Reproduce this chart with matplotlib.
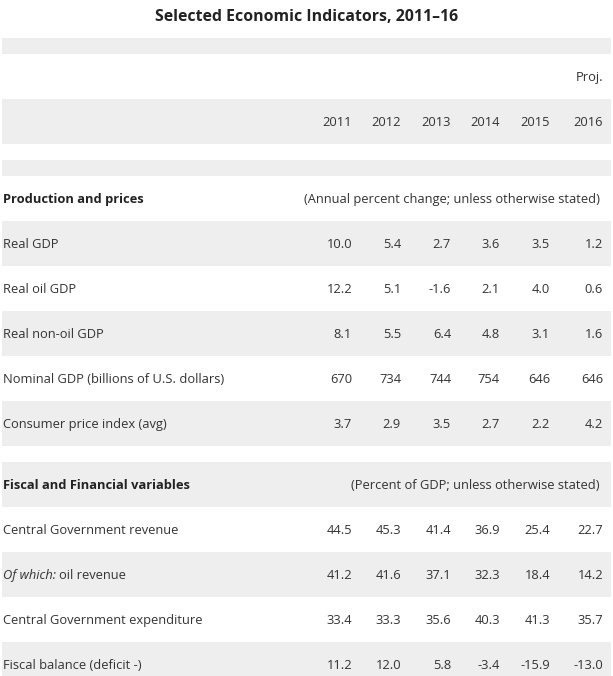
import matplotlib
matplotlib.use("Agg")
import matplotlib.pyplot as plt

# --------------------------------------------------------------------------
# Table content
# --------------------------------------------------------------------------
title = "Selected Economic Indicators, 2011\u201316"
years = ["2011", "2012", "2013", "2014", "2015", "2016"]
proj_label = "Proj."

section1 = "Production and prices"
section1_note = "(Annual percent change; unless otherwise stated)"
rows1 = ["Real GDP", "Real oil GDP", "Real non-oil GDP",
         "Nominal GDP (billions of U.S. dollars)", "Consumer price index (avg)"]
vals1 = [["10.0", "5.4", "2.7", "3.6", "3.5", "1.2"],
         ["12.2", "5.1", "-1.6", "2.1", "4.0", "0.6"],
         ["8.1", "5.5", "6.4", "4.8", "3.1", "1.6"],
         ["670", "734", "744", "754", "646", "646"],
         ["3.7", "2.9", "3.5", "2.7", "2.2", "4.2"]]

section2 = "Fiscal and Financial variables"
section2_note = "(Percent of GDP; unless otherwise stated)"
rows2 = ["Central Government revenue", "oil revenue",
         "Central Government expenditure", "Fiscal balance (deficit -)"]
rows2_prefix = ["", "Of which:", "", ""]
vals2 = [["44.5", "45.3", "41.4", "36.9", "25.4", "22.7"],
         ["41.2", "41.6", "37.1", "32.3", "18.4", "14.2"],
         ["33.4", "33.3", "35.6", "40.3", "41.3", "35.7"],
         ["11.2", "12.0", "5.8", "-3.4", "-15.9", "-13.0"]]

# --------------------------------------------------------------------------
# Layout (pixel space)
# --------------------------------------------------------------------------
W, H = 613, 676
ROW_H = 45
SPACER_H = 16
LEFT, RIGHT = 2, 611
LABEL_X = 3
COL_RIGHT = [352, 401, 451, 500, 550, 603]
GRAY = "#eeeeee"
TXT = "#333333"
FONT = "Open Sans"
FS = 9.3
DY = 1  # small downward nudge of text inside each row

fig = plt.figure(figsize=(W / 100, H / 100), dpi=100)
ax = fig.add_axes([0, 0, 1, 1])
ax.set_xlim(0, W)
ax.set_ylim(H, 0)
ax.axis("off")

def band(y0, h, shaded):
    if shaded:
        ax.barh(y0 + h / 2, RIGHT - LEFT, height=h, left=LEFT,
                color=GRAY, linewidth=0)

def row_values(yc, values):
    for xr, v in zip(COL_RIGHT, values):
        ax.text(xr, yc, v, ha="right", va="center", fontsize=FS,
                color=TXT, family=FONT)

ax.text(W / 2, 17, title, ha="center", va="center", fontsize=11.4,
        fontweight="bold", color="#222222", family=FONT)

y = 38
band(y, SPACER_H, True); y += SPACER_H
band(y, ROW_H, False)
ax.text(COL_RIGHT[-1], y + ROW_H / 2 + DY, proj_label, ha="right", va="center",
        fontsize=FS, color=TXT, family=FONT)
y += ROW_H
band(y, ROW_H, True)
row_values(y + ROW_H / 2 + DY, years)
y += ROW_H
y += SPACER_H
band(y, SPACER_H, True); y += SPACER_H

# section 1
band(y, ROW_H, False)
ax.text(LABEL_X, y + ROW_H / 2 + DY, section1, ha="left", va="center",
        fontsize=FS, fontweight="bold", color="#222222", family=FONT)
ax.text(600, y + ROW_H / 2 + DY, section1_note, ha="right", va="center",
        fontsize=FS, color=TXT, family=FONT)
y += ROW_H
for i, (lab, vals) in enumerate(zip(rows1, vals1)):
    band(y, ROW_H, i % 2 == 0)
    ax.text(LABEL_X, y + ROW_H / 2 + DY, lab, ha="left", va="center",
            fontsize=FS, color=TXT, family=FONT)
    row_values(y + ROW_H / 2 + DY, vals)
    y += ROW_H
y += SPACER_H

# section 2
band(y, ROW_H, True)
ax.text(LABEL_X, y + ROW_H / 2 + DY, section2, ha="left", va="center",
        fontsize=FS, fontweight="bold", color="#222222", family=FONT)
ax.text(600, y + ROW_H / 2 + DY, section2_note, ha="right", va="center",
        fontsize=FS, color=TXT, family=FONT)
y += ROW_H
for i, (pre, lab, vals) in enumerate(zip(rows2_prefix, rows2, vals2)):
    band(y, ROW_H, i % 2 == 1)
    yc = y + ROW_H / 2 + DY
    if pre:
        t = ax.text(LABEL_X, yc, pre, ha="left", va="center", fontsize=FS,
                    style="italic", color=TXT, family=FONT)
        fig.canvas.draw()
        bb = t.get_window_extent()
        x_end = ax.transData.inverted().transform((bb.x1, bb.y0))[0]
        ax.text(x_end + 3, yc, lab, ha="left", va="center", fontsize=FS,
                color=TXT, family=FONT)
    else:
        ax.text(LABEL_X, yc, lab, ha="left", va="center", fontsize=FS,
                color=TXT, family=FONT)
    row_values(yc, vals)
    y += ROW_H

fig.savefig("out.png", dpi=100, facecolor="white")
